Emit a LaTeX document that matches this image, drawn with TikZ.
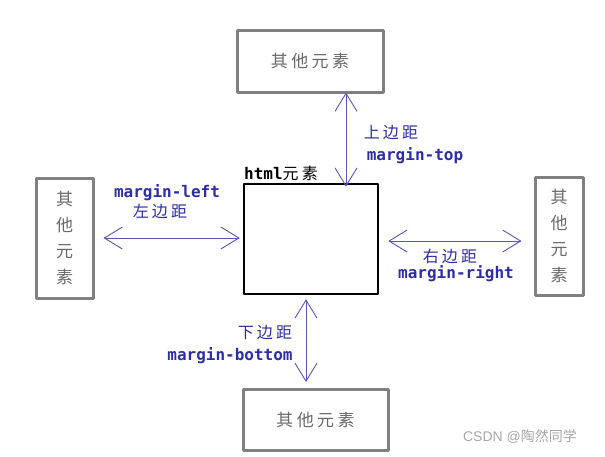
\documentclass[tikz,border=0pt]{standalone}
\usepackage{fontspec}
\setmonofont{DejaVu Sans Mono}
\newfontfamily\cjk[LetterSpace=20]{Noto Sans CJK SC}
\newfontfamily\cjkwm{Noto Sans CJK SC}
\newfontfamily\wmfont{Liberation Sans}
\usetikzlibrary{arrows.meta}
\definecolor{boxgray}{RGB}{128,128,128}
\definecolor{txtgray}{RGB}{105,105,105}
\definecolor{lblblue}{RGB}{45,45,165}
\definecolor{arrblue}{RGB}{85,85,185}
\begin{document}
\begin{tikzpicture}[x=1pt, y=-1pt, line join=round, line cap=round,
		other/.style={draw=boxgray, line width=3pt, inner sep=0pt, text=txtgray, font=\fontsize{17}{26}\selectfont\cjk, align=center},
		elem/.style={draw=black, line width=2.5pt, inner sep=0pt, minimum width=134pt, minimum height=110pt},
		marr/.style={draw=arrblue, line width=0.9pt, {Straight Barb[length=18pt,width=22pt]}-{Straight Barb[length=18pt,width=22pt]}},
		lbl/.style={text=lblblue, inner sep=0pt, font=\fontsize{16}{18}\selectfont\ttfamily\bfseries},
		zh/.style={text=lblblue, inner sep=0pt, font=\fontsize{16}{18}\selectfont\cjk}]
	\useasboundingbox (0,0) rectangle (605,456);
	% boxes round the element
	\node[other, minimum width=146pt, minimum height=62pt] (top) at (310,61) {其他元素};
	\node[other, minimum width=57pt, minimum height=120pt] (left) at (64.5,238) {其\\他\\元\\素};
	\node[other, minimum width=48pt, minimum height=118pt] (right) at (559,236) {其\\他\\元\\素};
	\node[other, minimum width=145pt, minimum height=61pt] (bottom) at (315.5,420) {其他元素};
	% the element itself
	\node[elem] (html) at (311,239) {};
	\node[anchor=south west, inner sep=0pt, font=\fontsize{16}{18}\selectfont\ttfamily\bfseries] (htmllbl) at (244,181) {html{\cjk\mdseries 元素}};
	% margins
	\draw[marr] ([xshift=36pt,yshift=1pt]top.south) -- ([xshift=35pt,yshift=-4pt]html.north);
	\draw[marr, shorten <=9pt, shorten >=3pt] (left.east) -- (left.east -| html.west);
	\draw[marr, shorten <=9pt, shorten >=12pt] ([yshift=-2pt]html.east) -- ([yshift=-2pt]html.east -| right.west);
	\draw[marr, shorten <=4pt, shorten >=6pt] ([xshift=-5pt]html.south) -- ([xshift=-5pt]html.south |- bottom.north);
	% labels
	\node[zh] (ttop) at (391,133) {上边距};
	\node[lbl] (mtop) at (415,156) {margin-top};
	\node[lbl] (mleft) at (167,193) {margin-left};
	\node[zh] (tleft) at (160,211) {左边距};
	\node[zh] (tright) at (450,256) {右边距};
	\node[lbl] (mright) at (456,274) {margin-right};
	\node[zh] (tbottom) at (265,333) {下边距};
	\node[lbl] (mbottom) at (230,356) {margin-bottom};
	\node[text=black!35, inner sep=0pt, font=\fontsize{14}{16}\selectfont\wmfont] (wm) at (520,437) {CSDN @{\cjkwm 陶然同学}};
\end{tikzpicture}
\end{document}
